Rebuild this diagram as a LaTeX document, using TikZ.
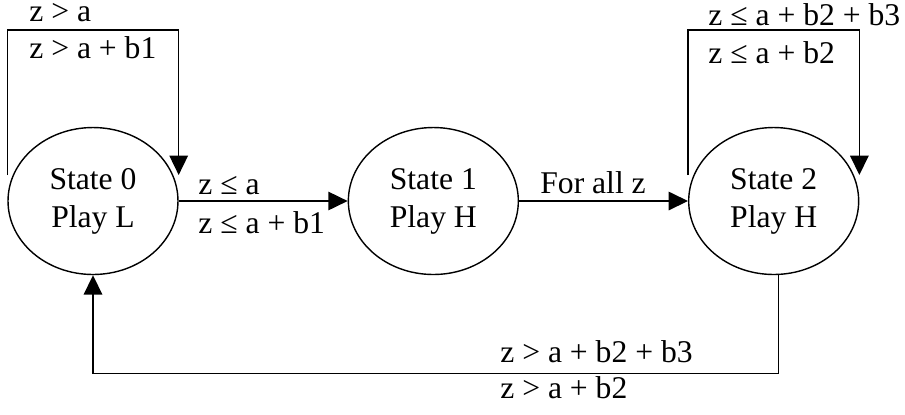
\documentclass[tikz,border=0pt]{standalone}
\usepackage{fontspec}
\setmainfont{Liberation Serif}
\usepackage{tikz}
\usetikzlibrary{shapes.geometric, arrows.meta, positioning, calc}

\begin{document}
\begin{tikzpicture}[
  x=0.02cm, y=-0.02cm,
  state/.style={ellipse, draw, line width=0.8pt, minimum width=3.4cm,
    minimum height=2.94cm, inner sep=0pt, align=center,
    font=\fontsize{18}{21.6}\selectfont},
  arr/.style={-{Triangle[length=11pt, width=10.5pt]}, line width=0.8pt},
  lbl/.style={anchor=base west, inner sep=0pt, text height=0.7em, text depth=0.2em,
    font=\fontsize{18}{21.6}\selectfont},
  node distance=3.38cm,
]
  \useasboundingbox (0,0) rectangle (905,414);

  \node[state] (s0) at (93,201) {State 0\\Play L};
  \node[state, right=of s0] (s1) {State 1\\Play H};
  \node[state, right=of s1] (s2) {State 2\\Play H};

  % self loops
  \coordinate (t0) at ($(s0.west)+(0,-26)$);
  \coordinate (h0) at ($(s0.east)+(0,-26)$);
  \coordinate (t2) at ($(s2.west)+(0,-26)$);
  \coordinate (h2) at ($(s2.east)+(0,-26)$);
  \draw[arr] (t0) -- ++(0,-145) -| (h0);
  \draw[arr] (t2) -- ++(0,-145) -| (h2);

  \draw[arr] (s0) -- (s1);
  \draw[arr] (s1) -- (s2);
  \draw[arr] ([xshift=0.1cm]s2.south) -- ++(0,98) -| (s0.south);

  \node[lbl] (c1) at (29,21) {z > a};
  \node[lbl] (c2) at (29,58) {z > a + b1};
  \node[lbl] (c3) at (198,194) {z ≤ a};
  \node[lbl] (c4) at (198,233) {z ≤ a + b1};
  \node[lbl] (c5) at (540,193) {For all z};
  \node[lbl] (c6) at (708,25) {z ≤ a + b2 + b3};
  \node[lbl] (c7) at (708,63) {z ≤ a + b2};
  \node[lbl] (c8) at (500,362) {z > a + b2 + b3};
  \node[lbl] (c9) at (500,398) {z > a + b2};
\end{tikzpicture}
\end{document}
